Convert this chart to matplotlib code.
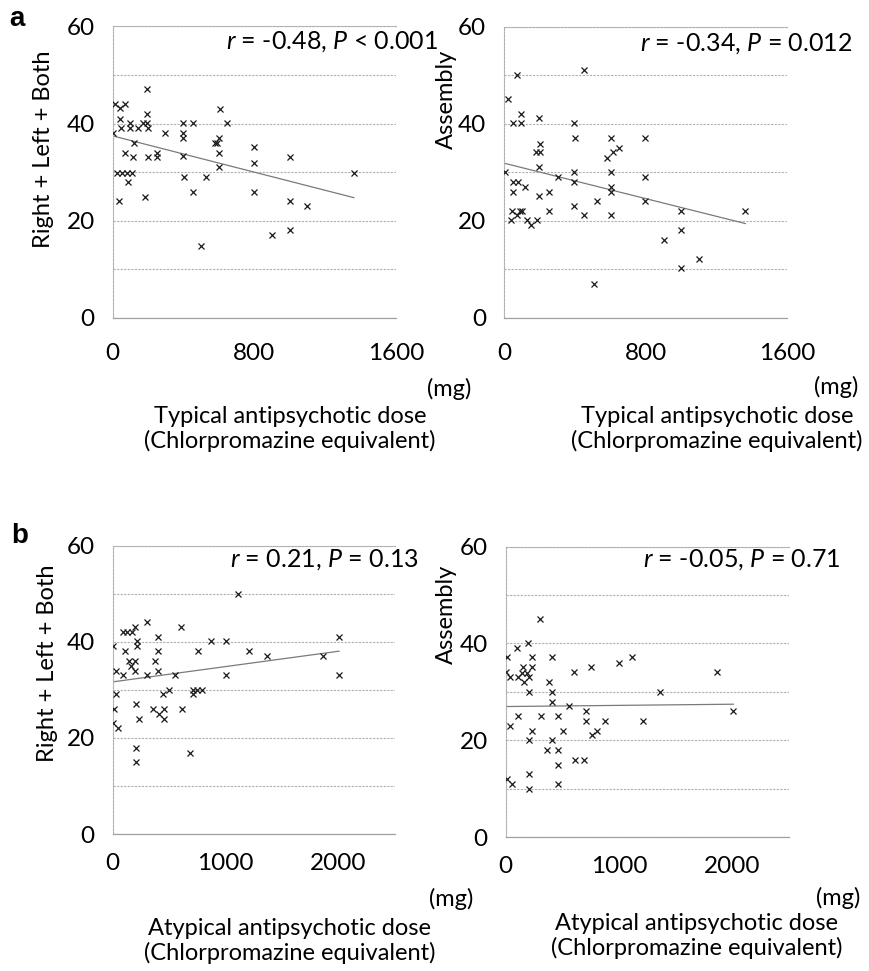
import numpy as np
import matplotlib
matplotlib.use('Agg')
import matplotlib.pyplot as plt
from matplotlib.ticker import MultipleLocator

W, H = 870, 971
plt.rcParams['font.family'] = ['Lato', 'DejaVu Sans']
plt.rcParams['mathtext.fontset'] = 'custom'
plt.rcParams['mathtext.rm'] = 'Lato'
plt.rcParams['mathtext.it'] = 'Lato:italic'

# ---------------- data ----------------
# (a) typical antipsychotic dose (mg) vs Right + Left + Both
typ_dose_rlb = [192, 13, 42, 70, 608, 42, 192, 645, 45, 98, 98, 145, 170, 192, 198, 396, 453,
                0, 296, 396, 396, 598, 589, 579, 121, 800, 70, 113, 198, 249, 249, 396, 598,
                1000, 800, 598, 23, 51, 79, 108, 1362, 400, 528, 89, 453, 800, 36, 183, 1000,
                1098, 900, 1000, 500]
rlb_a = [47.1, 44.1, 43.2, 44.1, 43.0, 41.0, 42.0, 40.1, 39.1, 40.1, 39.1, 39.1, 40.1, 40.1, 39.1,
         40.1, 40.1, 38.1, 38.1, 38.1, 37.0, 37.0, 36.0, 36.0, 36.0, 35.1, 34.0, 33.1, 33.1, 34.0,
         33.1, 33.3, 34.0, 33.1, 32.0, 31.0, 29.9, 29.9, 29.9, 29.9, 29.9, 29.1, 29.1, 28.0, 26.0,
         26.0, 24.1, 25.0, 24.1, 23.1, 17.1, 18.1, 14.9]

# (a) typical antipsychotic dose (mg) vs Assembly
typ_dose_asm = [72, 455, 25, 96, 49, 96, 198, 398, 402, 604, 798, 204, 179, 204, 581, 615, 653,
                200, 6, 398, 604, 304, 798, 49, 77, 119, 398, 49, 200, 255, 604, 604, 528, 798,
                398, 43, 91, 100, 255, 1000, 1364, 72, 38, 128, 153, 189, 455, 604, 1000, 902,
                1104, 1000, 509]
asm_a = [50.1, 51.1, 45.1, 42.0, 40.1, 40.1, 41.1, 40.1, 37.0, 37.0, 37.0, 35.9, 34.1, 34.1, 33.0,
         34.1, 35.0, 31.1, 30.0, 30.0, 30.0, 29.0, 29.0, 28.0, 28.0, 27.0, 28.0, 26.0, 25.1, 26.0,
         27.0, 26.0, 24.0, 24.0, 23.1, 22.1, 22.1, 22.1, 22.1, 22.1, 22.1, 21.1, 20.1, 20.1, 19.1,
         20.1, 21.1, 21.1, 18.1, 16.1, 12.1, 10.2, 7.0]

# (b) atypical antipsychotic dose (mg) vs Right + Left + Both
atyp_dose_rlb = [1107, 301, 88, 130, 168, 198, 603, 398, 2004, 218, 868, 1003, 0, 218, 109, 398,
                 753, 1208, 1364, 1866, 148, 198, 375, 163, 29, 198, 398, 94, 307, 552, 1003, 2004,
                 502, 708, 750, 788, 29, 448, 708, 207, 12, 354, 458, 611, 410, 6, 233, 458, 50,
                 207, 685, 207]
rlb_b = [50.0, 44.1, 42.1, 42.1, 42.1, 43.1, 43.1, 41.1, 41.0, 40.1, 40.1, 40.1, 39.1, 39.1, 38.1,
         38.1, 38.1, 38.1, 37.1, 37.1, 36.0, 36.0, 36.0, 35.0, 34.0, 34.0, 34.0, 33.1, 33.1, 33.1,
         33.1, 33.1, 30.0, 30.0, 30.0, 30.0, 29.1, 29.1, 29.1, 27.1, 26.0, 26.0, 26.0, 26.0, 25.0,
         23.0, 23.9, 23.9, 22.0, 17.9, 16.8, 14.9]

# (b) atypical antipsychotic dose (mg) vs Assembly
atyp_dose_asm = [303, 103, 200, 15, 229, 406, 1112, 1003, 156, 229, 750, 3, 38, 112, 141, 209, 603,
                 1862, 165, 191, 383, 209, 406, 1362, 406, 559, 706, 2009, 112, 312, 459, 706, 877,
                 1209, 38, 235, 509, 809, 759, 209, 406, 362, 459, 612, 692, 465, 209, 9, 59, 209,
                 465]
asm_b = [45.1, 39.1, 40.1, 37.1, 37.1, 37.1, 37.1, 36.0, 35.1, 35.1, 35.1, 34.1, 33.1, 33.1, 33.9,
         33.1, 34.0, 34.0, 32.0, 33.9, 32.0, 30.0, 30.0, 30.0, 28.0, 27.0, 26.0, 26.0, 25.0, 25.0,
         25.0, 24.0, 24.0, 24.0, 23.0, 22.0, 22.0, 22.0, 21.0, 20.0, 20.0, 18.0, 18.0, 16.0, 16.0,
         14.9, 13.0, 12.0, 11.0, 9.9, 11.0]

stats_text = [r'$\mathit{r}$ = -0.48, $\mathit{P}$ < 0.001',
              r'$\mathit{r}$ = -0.34, $\mathit{P}$ = 0.012',
              r'$\mathit{r}$ = 0.21, $\mathit{P}$ = 0.13',
              r'$\mathit{r}$ = -0.05, $\mathit{P}$ = 0.71']
ylabels = ['Right + Left + Both', 'Assembly', 'Right + Left + Both', 'Assembly']
xlabels = ['Typical antipsychotic dose\n(Chlorpromazine equivalent)',
           'Typical antipsychotic dose\n(Chlorpromazine equivalent)',
           'Atypical antipsychotic dose\n(Chlorpromazine equivalent)',
           'Atypical antipsychotic dose\n(Chlorpromazine equivalent)']
xticks_a = [0, 800, 1600]
xticks_b = [0, 1000, 2000]
yticks = [0, 20, 40, 60]

# ---------------- figure ----------------
fig = plt.figure(figsize=(W / 100, H / 100), dpi=100)


def rect(x0, y0, x1, y1):
    return [x0 / W, 1 - y1 / H, (x1 - x0) / W, (y1 - y0) / H]


def ftext(x, y, s, **kw):
    fig.text(x / W, 1 - y / H, s, **kw)


panels = [
    dict(r=rect(112.7, 26.5, 396, 318), x=typ_dose_rlb, y=rlb_a, xmax=1600, xt=xticks_a, xpad=18,
         st=(226, 42), yl=(44, 50), xl=(290, 429), mg=(449, 389)),
    dict(r=rect(504, 26.7, 787, 317.7), x=typ_dose_asm, y=asm_a, xmax=1600, xt=xticks_a, xpad=18,
         st=(640, 44), yl=(446, 50), xl=(717, 429), mg=(836, 387)),
    dict(r=rect(112.7, 545.7, 395, 834), x=atyp_dose_rlb, y=rlb_b, xmax=2500, xt=xticks_b, xpad=14,
         st=(230, 560), yl=(48, 565), xl=(290, 941), mg=(451, 899)),
    dict(r=rect(505.7, 546.7, 789, 837), x=atyp_dose_asm, y=asm_b, xmax=2500, xt=xticks_b, xpad=14,
         st=(643, 560), yl=(446, 565), xl=(697, 936), mg=(838, 898)),
]

grid_col = '#b0b0b0'
for i, p in enumerate(panels):
    ax = fig.add_axes(p['r'])
    x = np.asarray(p['x'], float)
    y = np.asarray(p['y'], float)
    ax.plot(x, y, linestyle='none', marker='x', color='#1a1a1a', ms=4.3, mew=0.9, zorder=3)
    m, b = np.polyfit(x, y, 1)
    xs = np.array([x.min(), x.max()])
    ax.plot(xs, m * xs + b, color='#7a7a7a', lw=0.9, zorder=2)

    ax.set_xlim(0, p['xmax'])
    ax.set_ylim(0, 60)
    ax.set_xticks(p['xt'])
    ax.set_yticks(yticks)
    ax.yaxis.set_minor_locator(MultipleLocator(10))
    ax.grid(axis='y', which='both', color=grid_col, linestyle=(0, (2, 1.2)), lw=0.8)
    ax.set_axisbelow(True)
    ax.tick_params(axis='both', which='both', length=0, labelsize=17.5)
    ax.tick_params(axis='y', pad=13)
    ax.tick_params(axis='x', pad=p['xpad'])
    ax.spines['right'].set_visible(False)
    for s in ['top', 'left']:
        ax.spines[s].set_color(grid_col)
        ax.spines[s].set_linestyle((0, (2, 1.2)))
        ax.spines[s].set_linewidth(0.8)
    ax.spines['bottom'].set_color('#a0a0a0')
    ax.spines['bottom'].set_linewidth(0.9)

    ftext(*p['st'], stats_text[i], fontsize=18, ha='left', va='center')
    ftext(*p['yl'], ylabels[i], fontsize=17, rotation=90, ha='center', va='top')
    ftext(*p['xl'], xlabels[i], fontsize=17, ha='center', va='center',
          multialignment='center', linespacing=1.2)
    ftext(*p['mg'], '(mg)', fontsize=17, ha='center', va='center')

ftext(17, 19, 'a', fontsize=20, fontweight='bold', family='Liberation Sans', ha='center', va='center')
ftext(20, 536, 'b', fontsize=20, fontweight='bold', family='Liberation Sans', ha='center', va='center')

fig.savefig('out.png', dpi=100)
